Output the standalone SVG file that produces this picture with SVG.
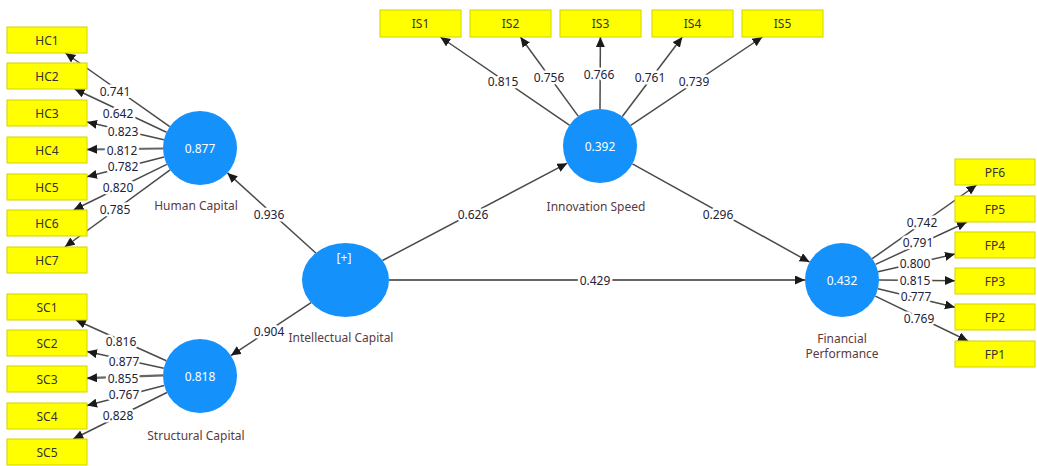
<svg xmlns="http://www.w3.org/2000/svg" width="1037" height="466" viewBox="0 0 1037 466">
<defs>
<marker id="arr" markerUnits="userSpaceOnUse" markerWidth="11" markerHeight="10" refX="10" refY="4.5" orient="auto">
<path d="M0,0 L10,4.5 L0,9 z" fill="#1a1a1a"/>
</marker>
<style>
.ind rect{fill:#ffff00;stroke:#d2d200;stroke-width:1}
.ind text{font-family:"Noto Sans","Open Sans",sans-serif;font-size:12px;fill:#333;text-anchor:middle;dominant-baseline:central}
.lv circle,.lv ellipse{fill:#1591fb}
.val{font-family:"Noto Sans","Open Sans",sans-serif;font-size:12px;fill:#ffffff;text-anchor:middle;dominant-baseline:central}
.name{font-family:"Noto Sans","Open Sans",sans-serif;font-size:12px;fill:#5a3a3e;text-anchor:middle;dominant-baseline:central}
.edges line{stroke:#4a4a4a;stroke-width:1.5;marker-end:url(#arr)}
.edges line.thick{stroke:#666;stroke-width:2.2}
.lbl{font-family:"Noto Sans","Open Sans",sans-serif;font-size:12px;fill:#22223a;text-anchor:middle;dominant-baseline:central;stroke:#ffffff;stroke-width:5;paint-order:stroke;stroke-linejoin:round}
</style>
</defs>
<rect width="1037" height="466" fill="#ffffff"/>

<g id="connectors" class="edges">
<!-- Human Capital loadings -->
<line x1="169.8" y1="126.7" x2="65.4" y2="53"/>
<line x1="166.5" y1="132.2" x2="74.6" y2="89"/>
<line x1="163.9" y1="139.7" x2="87" y2="122.1"/>
<line x1="163" y1="148.5" x2="87" y2="149.5" class="thick"/>
<line x1="164.1" y1="157.1" x2="87" y2="176.8"/>
<line x1="166.8" y1="164.3" x2="73.5" y2="210"/>
<line x1="170.1" y1="169.9" x2="64.8" y2="247"/>
<!-- Structural Capital loadings -->
<line x1="166.3" y1="360.8" x2="75.8" y2="320"/>
<line x1="163.8" y1="368.2" x2="87" y2="351.6"/>
<line x1="163" y1="375.3" x2="87" y2="378.2" class="thick"/>
<line x1="164.2" y1="385.4" x2="87" y2="405.6"/>
<line x1="166.9" y1="392.5" x2="73.2" y2="439"/>
<!-- Innovation Speed loadings -->
<line x1="569.4" y1="125.1" x2="440.3" y2="37"/>
<line x1="578.2" y1="116.1" x2="520.4" y2="37"/>
<line x1="600" y1="109" x2="600.4" y2="37"/>
<line x1="622.3" y1="116.5" x2="682.3" y2="37"/>
<line x1="630.7" y1="125.4" x2="762.4" y2="37"/>
<!-- Financial Performance loadings -->
<line x1="872.2" y1="258.7" x2="976.6" y2="185"/>
<line x1="875.6" y1="264.4" x2="967" y2="222"/>
<line x1="878.1" y1="271.7" x2="955" y2="254.1"/>
<line x1="879" y1="280" x2="955" y2="280.7"/>
<line x1="878" y1="288.7" x2="955" y2="307.3"/>
<line x1="875.3" y1="296.1" x2="968.1" y2="341"/>
<!-- Structural paths -->
<line x1="315.8" y1="253" x2="227.4" y2="172.9"/>
<line x1="311.1" y1="302.7" x2="230.9" y2="355.6"/>
<line x1="382.5" y1="260.5" x2="567.3" y2="163.2"/>
<line x1="389" y1="280" x2="805" y2="280" class="thick"/>
<line x1="632.4" y1="163.9" x2="809.6" y2="262.1"/>
</g>

<g id="labels">
<text class="lbl" x="115" y="91">0.741</text>
<text class="lbl" x="118" y="113">0.642</text>
<text class="lbl" x="123" y="131">0.823</text>
<text class="lbl" x="122" y="150">0.812</text>
<text class="lbl" x="123" y="166">0.782</text>
<text class="lbl" x="118" y="187">0.820</text>
<text class="lbl" x="115" y="209">0.785</text>
<text class="lbl" x="121" y="341">0.816</text>
<text class="lbl" x="124" y="361">0.877</text>
<text class="lbl" x="123" y="378">0.855</text>
<text class="lbl" x="124" y="394">0.767</text>
<text class="lbl" x="118" y="415">0.828</text>
<text class="lbl" x="503" y="81">0.815</text>
<text class="lbl" x="549" y="77">0.756</text>
<text class="lbl" x="599" y="74">0.766</text>
<text class="lbl" x="650" y="77">0.761</text>
<text class="lbl" x="694" y="81">0.739</text>
<text class="lbl" x="922" y="222">0.742</text>
<text class="lbl" x="918" y="242">0.791</text>
<text class="lbl" x="915" y="263">0.800</text>
<text class="lbl" x="915" y="280">0.815</text>
<text class="lbl" x="916" y="296">0.777</text>
<text class="lbl" x="919" y="318">0.769</text>
<text class="lbl" x="269" y="214">0.936</text>
<text class="lbl" x="269" y="331">0.904</text>
<text class="lbl" x="473" y="214">0.626</text>
<text class="lbl" x="718" y="214">0.296</text>
<text class="lbl" x="595" y="280">0.429</text>
</g>

<g id="HC1" class="ind"><rect x="7" y="27" width="80" height="26"/><text x="47" y="40">HC1</text></g>
<g id="HC2" class="ind"><rect x="7" y="63" width="80" height="26"/><text x="47" y="76">HC2</text></g>
<g id="HC3" class="ind"><rect x="7" y="100" width="80" height="26"/><text x="47" y="113">HC3</text></g>
<g id="HC4" class="ind"><rect x="7" y="137" width="80" height="26"/><text x="47" y="150">HC4</text></g>
<g id="HC5" class="ind"><rect x="7" y="174" width="80" height="26"/><text x="47" y="187">HC5</text></g>
<g id="HC6" class="ind"><rect x="7" y="210" width="80" height="26"/><text x="47" y="223">HC6</text></g>
<g id="HC7" class="ind"><rect x="7" y="247" width="80" height="26"/><text x="47" y="260">HC7</text></g>

<g id="SC1" class="ind"><rect x="7" y="294" width="80" height="26"/><text x="47" y="307">SC1</text></g>
<g id="SC2" class="ind"><rect x="7" y="330" width="80" height="26"/><text x="47" y="343">SC2</text></g>
<g id="SC3" class="ind"><rect x="7" y="366" width="80" height="26"/><text x="47" y="379">SC3</text></g>
<g id="SC4" class="ind"><rect x="7" y="403" width="80" height="26"/><text x="47" y="416">SC4</text></g>
<g id="SC5" class="ind"><rect x="7" y="439" width="80" height="26"/><text x="47" y="452">SC5</text></g>

<g id="IS1" class="ind"><rect x="380" y="10" width="81" height="27"/><text x="420.5" y="23.5">IS1</text></g>
<g id="IS2" class="ind"><rect x="470" y="10" width="81" height="27"/><text x="510.5" y="23.5">IS2</text></g>
<g id="IS3" class="ind"><rect x="560" y="10" width="81" height="27"/><text x="600.5" y="23.5">IS3</text></g>
<g id="IS4" class="ind"><rect x="652" y="10" width="81" height="27"/><text x="692.5" y="23.5">IS4</text></g>
<g id="IS5" class="ind"><rect x="742" y="10" width="81" height="27"/><text x="782.5" y="23.5">IS5</text></g>

<g id="PF6" class="ind"><rect x="955" y="159" width="80" height="26"/><text x="995" y="172">PF6</text></g>
<g id="FP5" class="ind"><rect x="955" y="196" width="80" height="26"/><text x="995" y="209">FP5</text></g>
<g id="FP4" class="ind"><rect x="955" y="232" width="80" height="26"/><text x="995" y="245">FP4</text></g>
<g id="FP3" class="ind"><rect x="955" y="268" width="80" height="26"/><text x="995" y="281">FP3</text></g>
<g id="FP2" class="ind"><rect x="955" y="304" width="80" height="26"/><text x="995" y="317">FP2</text></g>
<g id="FP1" class="ind"><rect x="955" y="341" width="80" height="26"/><text x="995" y="354">FP1</text></g>

<g id="HumanCapital" class="lv"><circle cx="200" cy="148" r="37"/><text class="val" x="200" y="148">0.877</text><text class="name" x="196" y="205">Human Capital</text></g>
<g id="StructuralCapital" class="lv"><circle cx="200" cy="376" r="37"/><text class="val" x="200" y="376">0.818</text><text class="name" x="196" y="435">Structural Capital</text></g>
<g id="IntellectualCapital" class="lv"><ellipse cx="345.5" cy="280" rx="43.5" ry="37"/><text class="val" x="344" y="257">[+]</text><text class="name" x="341" y="337">Intellectual Capital</text></g>
<g id="InnovationSpeed" class="lv"><circle cx="600" cy="146" r="37"/><text class="val" x="600" y="146">0.392</text><text class="name" x="596" y="206">Innovation Speed</text></g>
<g id="FinancialPerformance" class="lv"><circle cx="842" cy="280" r="37"/><text class="val" x="842" y="280">0.432</text><text class="name" x="842" y="338">Financial</text><text class="name" x="842" y="353">Performance</text></g>
</svg>
